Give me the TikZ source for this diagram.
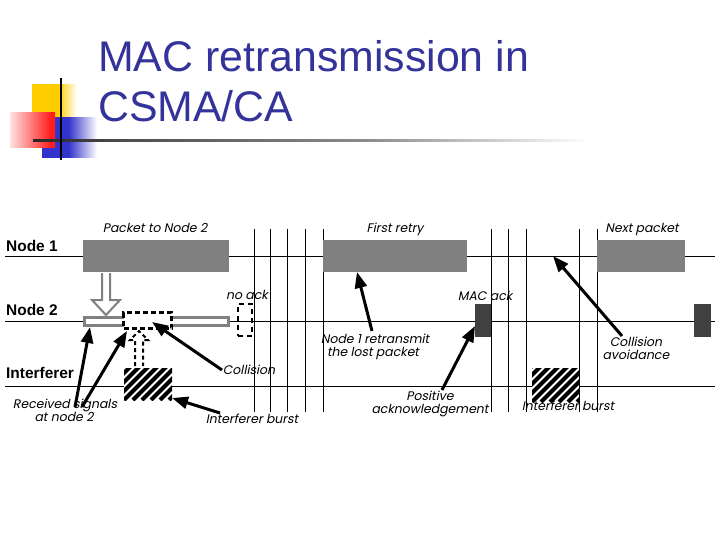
\documentclass[tikz,border=0pt]{standalone}
\usepackage{fontspec}
\setmainfont{Liberation Sans}
\newfontfamily\labfont[FakeSlant=0.2]{Poppins}
\usetikzlibrary{arrows.meta}
\definecolor{titleblue}{RGB}{51,51,153}
\definecolor{pktgray}{RGB}{128,128,128}
\definecolor{ackgray}{RGB}{64,64,64}
\definecolor{logoyellow}{RGB}{255,204,0}
\definecolor{logored}{RGB}{255,30,30}
\definecolor{logopink}{RGB}{255,225,225}
\definecolor{logoblue}{RGB}{51,51,204}
\pgfdeclarehorizontalshading{yelfade}{100bp}{color(0bp)=(logoyellow); color(25bp)=(logoyellow); color(54bp)=(logoyellow); color(75bp)=(white); color(100bp)=(white)}
\pgfdeclarehorizontalshading{redfade}{100bp}{color(0bp)=(logopink); color(25bp)=(logopink); color(70bp)=(logored); color(100bp)=(logored)}
\pgfdeclarehorizontalshading{bluefade}{100bp}{color(0bp)=(logoblue); color(25bp)=(logoblue); color(49bp)=(logoblue); color(75bp)=(white); color(100bp)=(white)}
\pgfdeclarehorizontalshading{rulefade}{100bp}{color(0bp)=(black); color(25bp)=(black!85); color(33bp)=(black!70); color(55bp)=(black!45); color(75bp)=(white); color(100bp)=(white)}
\begin{document}
\begin{tikzpicture}[x=1bp,y=-1bp,
  lab/.style={font=\labfont\fontsize{12.5}{14}\selectfont, inner sep=0, anchor=base},
  rowlab/.style={font=\fontsize{15.5}{17}\selectfont\bfseries, inner sep=0, anchor=base west},
  titletext/.style={font=\fontsize{43}{50}\selectfont, text=titleblue, inner sep=0, anchor=base west},
  pkt/.style={fill=pktgray, inner sep=0, minimum height=32bp},
  ackbox/.style={fill=ackgray, inner sep=0, minimum height=33bp},
  burst/.style={fill=white, inner sep=0, path picture={
      \foreach \k in {-6,...,7} \draw[line width=4bp] ([xshift={\k*9bp}]path picture bounding box.south west) -- ++(80bp,80bp);}},
  ptr/.style={line width=3bp, -{Triangle[length=16bp,width=12bp]}},
  rule/.style={line width=1bp, black},
  slot/.style={line width=1bp, black}]
\useasboundingbox[fill=white] (0,0) rectangle (720,540);

% ---- logo ----
\shade[shading=yelfade] (32,85) rectangle (77,118);
\shade[shading=bluefade] (42,118) rectangle (97,158);
\shade[shading=redfade] (10,113) rectangle (55,148);
\shade[shading=rulefade] (33,140) rectangle (590,142);
\fill[black] (60,78) rectangle (62,160);

% ---- title ----
\node[titletext] (t1) at (98,72) {MAC retransmission in};
\node[titletext] (t2) at (98,122) {CSMA/CA};

% ---- row lines ----
\coordinate (n1l) at (5,257);  \coordinate (n1r) at (715,257);
\coordinate (n2l) at (5,321);  \coordinate (n2r) at (715,321);
\coordinate (n3l) at (5,386);  \coordinate (n3r) at (715,386);
\draw[rule] (n1l) -- (n1r);
\draw[rule] (n2l) -- (n2r);
\draw[rule] (n3l) -- (n3r);

% ---- slot lines ----
\foreach \x [count=\i] in {254,270,287,305,323,491,508,526,579,597} {
  \coordinate (s\i a) at (\x,229);
  \coordinate (s\i b) at (\x,412);
  \draw[slot] (s\i a) -- (s\i b);
}

% ---- row labels ----
\node[rowlab] (ln1) at (6,252) {Node 1};
\node[rowlab] (ln2) at (6,315) {Node 2};
\node[rowlab] (ln3) at (6,378) {Interferer};

% ---- packets ----
\node[pkt, minimum width=146bp] (p1) at (156,256) {};
\node[pkt, minimum width=144bp] (p2) at (395,256) {};
\node[pkt, minimum width=88bp] (p3) at (641,256) {};

% received bar at node 2
\node[draw=pktgray, line width=3bp, fill=white, inner sep=0, minimum width=144bp, minimum height=8bp] (rx) at (156.5,321.5) {};

% hollow propagation arrow
\draw[pktgray, line width=2bp, fill=white, line join=miter]
  (102,273) -- (102,300) -- (92,300) -- (106,315) -- (120,300) -- (110,300) -- (110,273);

% collision box
\node[draw=black, line width=3bp, dash pattern=on 5bp off 3bp, fill=white, inner sep=0, minimum width=48bp, minimum height=16bp] (col) at (147.5,320.5) {};

% dashed interference arrow
\draw[black, line width=2bp, dash pattern=on 4bp off 3bp]
  (135,366) -- (135,340) -- (130,340) -- (139,331) -- (148,340) -- (143,340) -- (143,366);

% no ack box
\node[draw=black, line width=2bp, dash pattern=on 5bp off 4bp, inner sep=0, minimum width=14bp, minimum height=32bp] (noack) at (245,320) {};

% acks
\node[ackbox, minimum width=16bp] (ack1) at (483,320.5) {};
\node[ackbox, minimum width=17bp] (ack2) at (702.5,320.5) {};

% interferer bursts
\node[burst, minimum width=48bp, minimum height=32bp] (b1) at (148,384) {};
\node[burst, minimum width=47bp, minimum height=34bp] (b2) at (555.5,385) {};

% ---- labels ----
\node[lab] (lp1) at (155,233) {Packet to Node 2};
\node[lab] (lp2) at (395,233) {First retry};
\node[lab] (lp3) at (642,233) {Next packet};
\node[lab] (lna) at (247,299) {no ack};
\node[lab] (lma) at (485,300) {MAC ack};
\node[lab] (lr1) at (375,343) {Node 1 retransmit};
\node[lab] (lr2) at (373,356) {the lost packet};
\node[lab] (lc1) at (636,346) {Collision};
\node[lab] (lc2) at (636,359) {avoidance};
\node[lab] (lcol) at (249,374) {Collision};
\node[lab] (lpa1) at (430,400) {Positive};
\node[lab] (lpa2) at (430,413) {acknowledgement};
\node[lab] (lib2) at (568,410) {Interferer burst};
\node[lab] (lrs1) at (65,408) {Received signals};
\node[lab] (lrs2) at (64,421) {at node 2};
\node[lab] (lib1) at (252,423) {Interferer burst};

% ---- pointer arrows ----
\coordinate (a1t) at (75,407);   \coordinate (a1h) at (90,327);
\coordinate (a2t) at (82,407);   \coordinate (a2h) at (127,331);
\coordinate (a3t) at (222,370);  \coordinate (a3h) at (152,322);
\coordinate (a4t) at (220,413);  \coordinate (a4h) at (172,398);
\coordinate (a5t) at (372,331);  \coordinate (a5h) at (357,272);
\coordinate (a6t) at (442,390);  \coordinate (a6h) at (475,326);
\coordinate (a7t) at (622,336);  \coordinate (a7h) at (553,256);
\draw[ptr] (a1t) -- (a1h);
\draw[ptr] (a2t) -- (a2h);
\draw[ptr] (a3t) -- (a3h);
\draw[ptr] (a4t) -- (a4h);
\draw[ptr] (a5t) -- (a5h);
\draw[ptr] (a6t) -- (a6h);
\draw[ptr] (a7t) -- (a7h);
\end{tikzpicture}
\end{document}
